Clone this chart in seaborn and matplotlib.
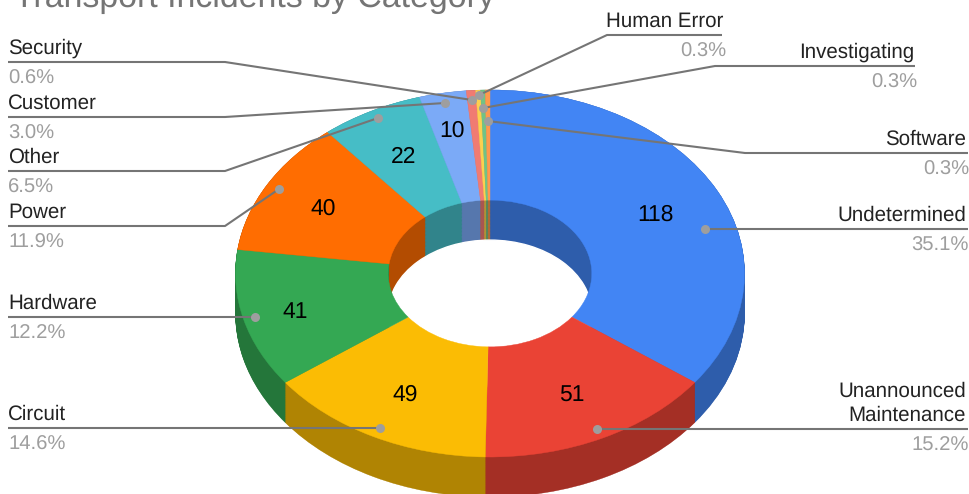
import matplotlib
matplotlib.use('Agg')
import matplotlib.pyplot as plt
import numpy as np
import seaborn as sns

categories = ['Undetermined', 'Unannounced\nMaintenance', 'Circuit', 'Hardware', 'Power', 'Other',
              'Customer', 'Security', 'Human Error', 'Investigating', 'Software']
incidents = [118, 51, 49, 41, 40, 22, 10, 2, 1, 1, 1]
percent_labels = ['35.1%', '15.2%', '14.6%', '12.2%', '11.9%', '6.5%', '3.0%', '0.6%', '0.3%', '0.3%', '0.3%']
slice_colors = ['#4285F4', '#EA4335', '#FBBC04', '#34A853', '#FF6D01', '#46BDC6',
                '#7BAAF7', '#F07B72', '#FCD04F', '#71C287', '#FF994D']

# how far out along each slice the value sits (only the big slices are labelled)
value_radius = [0.73, 0.73, 0.73, 0.79, 0.75, 0.73, 0.80]

# leader lines in pixels: label end, elbow, dot. None elbow means a straight line
line_start = [(968, 229), (968, 429), (8, 428), (8, 317), (8, 226), (8, 171),
              (8, 117), (8, 62), (722, 35), (915, 66), (968, 153)]
line_elbow = [None, None, None, None, (225, 226), (225, 171),
              (225, 117), (225, 62), (607, 35), (715, 66), (745, 153)]
line_dot = [(705, 229), (597, 429), (380, 428), (255, 317), (279, 189), (378, 118),
            (445, 103), (472, 100), (479, 95), (483, 108), (488, 121)]
label_x = [966, 966, 8, 8, 8, 8, 8, 8, 723, 914, 966]
label_side = ['right', 'right', 'left', 'left', 'left', 'left', 'left', 'left', 'right', 'right', 'right']

# pie geometry in pixels
CENTER_X, CENTER_Y = 490, 273.5
RADIUS_X, RADIUS_Y = 254.5, 183.5
DEPTH = 40 / RADIUS_Y
HOLE = 0.4


def draw_pie(ax, colors, radius=1.0, width=None, offset=0.0):
    """Draw one pie layer, `offset` is how far it is pushed down."""
    props = {'linewidth': 0.3}
    if width is not None:
        props['width'] = width
    wedges, _ = ax.pie(incidents, colors=colors, radius=radius, center=(0, -offset),
                       startangle=90, counterclock=False, wedgeprops=props)
    for wedge in wedges:
        wedge.set_edgecolor(wedge.get_facecolor())


sns.set_theme(style='white')
plt.rcParams['font.family'] = ['Liberation Sans', 'DejaVu Sans']
plt.rcParams['text.hinting'] = 'no_hinting'

fig = plt.figure(figsize=(9.7, 4.94), dpi=100)
ax = fig.add_axes([0, 0, 1, 1])

top_colors = sns.color_palette(slice_colors)
dark_colors = [tuple(c * 0.7 for c in color) for color in top_colors]

# outer wall: stack of dark pies from the bottom up
for offset in np.linspace(DEPTH, 0, 60):
    draw_pie(ax, dark_colors, offset=offset)

# inner wall: smaller pies going down, the last one is the white see-through part
for offset in np.linspace(0, DEPTH, 30):
    draw_pie(ax, dark_colors, radius=HOLE, offset=offset)
ax.pie([1], colors=['white'], radius=HOLE, center=(0, -DEPTH))

# top face goes over all of it and leaves only the hole open
draw_pie(ax, top_colors, width=1 - HOLE)

# pie() forces equal aspect, squash the circle into the ellipse
ax.set_aspect('auto')
ax.set_xlim(-CENTER_X / RADIUS_X, (970 - CENTER_X) / RADIUS_X)
ax.set_ylim((CENTER_Y - 494) / RADIUS_Y, CENTER_Y / RADIUS_Y)

# values on the slices
edges = np.cumsum([0] + incidents)
for i, r in enumerate(value_radius):
    angle = np.pi * 2 * (edges[i] + edges[i + 1]) / 2 / edges[-1]
    ax.text(r * np.sin(angle), r * np.cos(angle) - 2 / RADIUS_Y, str(incidents[i]), fontsize=16.5,
            color='black', ha='center', va='center')

# overlay in pixel coordinates for title, leader lines and labels
overlay = fig.add_axes([0, 0, 1, 1])
overlay.set_xlim(0, 970)
overlay.set_ylim(494, 0)
overlay.axis('off')

overlay.text(14, 7, 'Transport Incidents by Category', fontsize=24.4, color='#757575', ha='left', va='baseline')

for i, name in enumerate(categories):
    points = [line_start[i]] + ([line_elbow[i]] if line_elbow[i] else []) + [line_dot[i]]
    xs, ys = zip(*points)
    overlay.plot(xs, ys, color='#757575', linewidth=1.5, solid_capstyle='butt')
    overlay.plot(*line_dot[i], 'o', color='#9E9E9E', markersize=6.5, markeredgewidth=0)

    line_y = line_start[i][1]
    overlay.text(label_x[i], line_y - 3.5, name, fontsize=14.8, color='#222222', ha=label_side[i], va='bottom',
                 multialignment=label_side[i], linespacing=1.33)
    overlay.text(label_x[i] + (3 if label_side[i] == 'right' else 0), line_y + 7, percent_labels[i],
                 fontsize=14.6, color='#9E9E9E', ha=label_side[i], va='top')

fig.savefig('out.png', dpi=100)
